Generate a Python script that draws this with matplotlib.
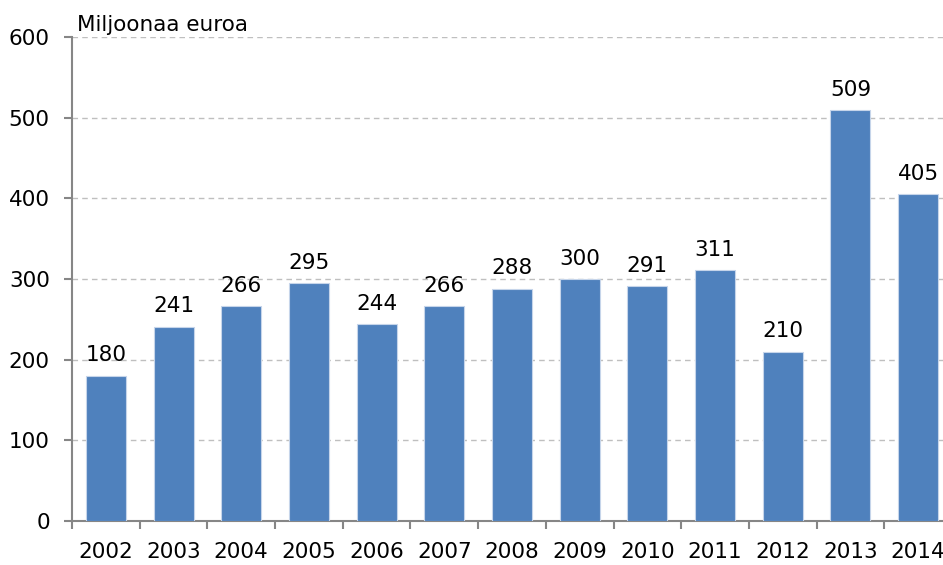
import matplotlib.pyplot as plt
import numpy as np

years = ['2002', '2003', '2004', '2005', '2006', '2007', '2008',
         '2009', '2010', '2011', '2012', '2013', '2014']
values = [180, 241, 266, 295, 244, 266, 288, 300, 291, 311, 210, 509, 405]

plt.rcParams['font.family'] = ['DejaVu Sans']
fs = 15.5

fig = plt.figure(figsize=(9.43, 5.65), dpi=100)
# axes runs off the right edge, the original is cropped there
ax = fig.add_axes([72 / 943, 44 / 565, 880 / 943, 484 / 565])

x = np.arange(len(years))
bars = ax.bar(x, values, width=0.59, color='#4F81BD', edgecolor='#C6D5EA',
              linewidth=0.8, zorder=3)

for xi, v in zip(x, values):
    ax.text(xi, v + 13, str(v), ha='center', va='bottom', fontsize=fs, color='black')

ax.set_xlim(-0.5, len(years) - 0.5)
ax.set_ylim(0, 600)
ax.set_yticks(np.arange(0, 601, 100))
ax.yaxis.grid(True, linestyle=(0, (4, 3)), color='#BFBFBF', linewidth=1, zorder=0)

# category labels centred, tick marks between categories
ax.set_xticks(x)
ax.set_xticklabels(years, fontsize=fs)
ax.tick_params(axis='x', length=0, pad=15)
ax.set_xticks(np.arange(-0.5, len(years)), minor=True)
ax.tick_params(axis='x', which='minor', length=6, width=1.5, color='#868686', direction='out')
ax.tick_params(axis='y', length=6, width=1.5, color='#868686', labelsize=fs, pad=10)

for s in ['top', 'right']:
    ax.spines[s].set_visible(False)
for s in ['left', 'bottom']:
    ax.spines[s].set_color('#868686')
    ax.spines[s].set_linewidth(1.5)

fig.text(77 / 943, 1 - 31 / 565, 'Miljoonaa euroa', fontsize=fs, ha='left', va='baseline')

fig.savefig('out.png', dpi=100)
